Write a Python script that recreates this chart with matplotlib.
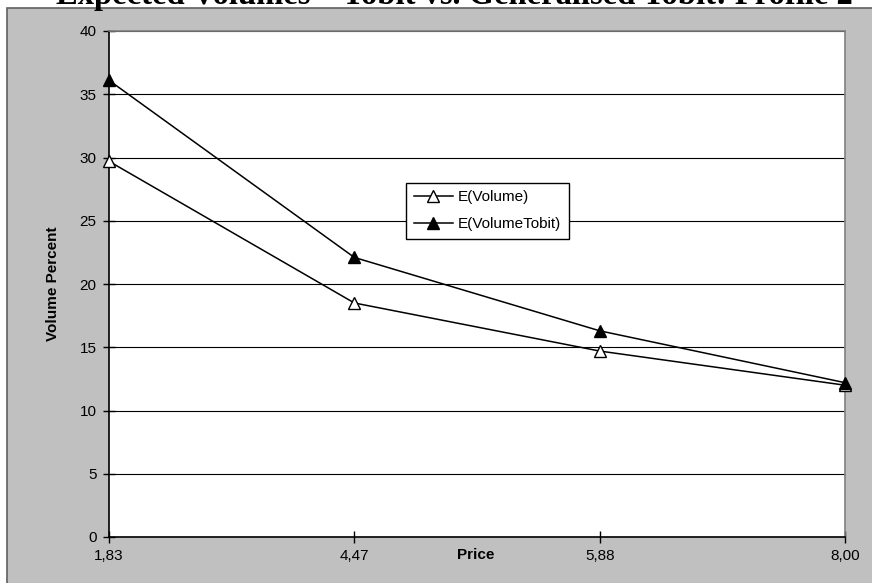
import matplotlib.pyplot as plt
from matplotlib.patches import Rectangle

# expected volumes per price level
prices = ["1,83", "4,47", "5,88", "8,00"]
e_volume = [29.7, 18.5, 14.7, 12.0]
e_volume_tobit = [36.1, 22.1, 16.3, 12.2]
y_ticks = [0, 5, 10, 15, 20, 25, 30, 35, 40]

W, H = 872, 583
fig = plt.figure(figsize=(W / 100, H / 100), dpi=100)
fig.patch.set_facecolor("white")

# grey chart area
fig.patches.append(Rectangle((7 / W, -0.05), 1.1, 1 - 8 / H + 0.05,
                             transform=fig.transFigure, facecolor="#c0c0c0",
                             edgecolor="#606060", linewidth=1.2, zorder=-5))

fig.text(454 / W, 1 - 4 / H,
         "Expected Volumes \u2013 Tobit vs. Generalised Tobit: Profile 2",
         ha="center", va="baseline", fontsize=23.5, fontweight="bold",
         family="Liberation Serif")

ax = fig.add_axes([109 / W, (H - 537) / H, 736 / W, 506 / H])
ax.set_zorder(2)
ax.set_facecolor("white")

x = list(range(len(prices)))
ax.plot(x, e_volume, color="black", lw=1.1, marker="^", ms=8,
        mfc="white", mec="black", mew=1, label="E(Volume)", clip_on=False, zorder=3)
ax.plot(x, e_volume_tobit, color="black", lw=1.1, marker="^", ms=8,
        mfc="black", mec="black", label="E(VolumeTobit)", clip_on=False, zorder=3)

ax.set_xlim(0, 3)
ax.set_ylim(0, 40)
ax.set_xticks(x)
ax.set_xticklabels(prices)
ax.set_yticks(y_ticks)
ax.grid(axis="y", color="black", lw=0.8)
ax.set_axisbelow(True)

for lab in ax.get_xticklabels() + ax.get_yticklabels():
    lab.set_family("Liberation Sans")
    lab.set_fontsize(11)
ax.tick_params(direction="inout", length=8, width=1, color="black", pad=5)

for s in ["left", "bottom"]:
    ax.spines[s].set_color("black")
    ax.spines[s].set_linewidth(1.2)
for s in ["top", "right"]:
    ax.spines[s].set_color("#808080")
    ax.spines[s].set_linewidth(1.2)

ax.set_ylabel("Volume Percent", fontsize=11, fontweight="bold",
              family="Liberation Sans", labelpad=14)
fig.text(476 / W, 1 - 555 / H, "Price", ha="center", va="center",
         fontsize=11, fontweight="bold", family="Liberation Sans")

leg = ax.legend(loc="upper left", bbox_to_anchor=(0.4035, 0.70), frameon=True,
                fancybox=False, edgecolor="black", framealpha=1,
                prop={"family": "Liberation Sans", "size": 11},
                handlelength=2.6, handletextpad=0.3, borderpad=0.5,
                labelspacing=0.85, borderaxespad=0)
leg.get_frame().set_linewidth(1)

fig.savefig("out.png", dpi=100)
